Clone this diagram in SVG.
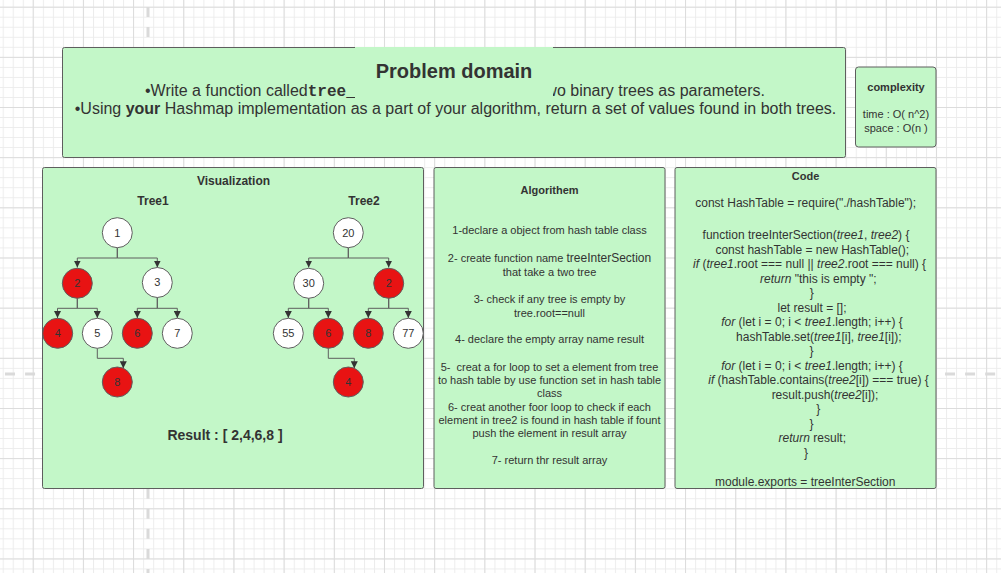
<svg xmlns="http://www.w3.org/2000/svg" width="1001" height="573" viewBox="0 0 1001 573">
<defs>
<pattern id="minor" patternUnits="userSpaceOnUse" x="2.7" y="6.7" width="10.036" height="10.032">
<path d="M0.5,0 V10.032 M0,0.5 H10.036" fill="none" stroke="#ececec" stroke-width="1"/>
</pattern>
<pattern id="major" patternUnits="userSpaceOnUse" x="32.7" y="6.7" width="50.18" height="50.16">
<path d="M0.5,0 V50.16 M0,0.5 H50.18" fill="none" stroke="#dcdcdc" stroke-width="1"/>
</pattern>
<marker id="arr" viewBox="0 0 10 10" refX="10" refY="5" markerWidth="7" markerHeight="7" markerUnits="userSpaceOnUse" orient="auto">
<path d="M0,0 L10,5 L0,10 z" fill="#333333"/>
</marker>
<style>
.box{fill:#c3f7c8;stroke:#5e5e5e;stroke-width:1}
.t{font-family:"Liberation Sans",Arial,sans-serif;fill:#333333}
.b{font-weight:bold}
.i{font-style:italic}
.c{text-anchor:middle}
.alg{font-size:11px}
.code{font-size:12px}
.nw{fill:#ffffff;stroke:#5e5e5e;stroke-width:1}
.nr{fill:#e81313;stroke:#5e5e5e;stroke-width:1}
.nt{font-family:"Liberation Sans",Arial,sans-serif;font-size:11px;fill:#333333;text-anchor:middle}
.con{fill:none;stroke:#5e5e5e;stroke-width:1;marker-end:url(#arr)}
.guide{stroke:#dadada;stroke-width:3;stroke-dasharray:10 10.07;fill:none}
</style>
</defs>
<rect x="0" y="0" width="1001" height="573" fill="#ffffff"/>
<rect x="0" y="0" width="1001" height="573" fill="url(#minor)"/>
<rect x="0" y="0" width="1001" height="573" fill="url(#major)"/>
<g id="guides">
<path class="guide" d="M148,7 V573"/>
<path class="guide" d="M5,374 H40"/>
<path class="guide" d="M945,374 H1001"/>
</g>

<g id="problem-domain">
<rect class="box" x="62.5" y="47.5" width="783" height="110" rx="2"/>
<text class="t" x="145" y="95.5" font-size="16">•Write a function called<tspan font-family="'Liberation Mono',monospace" font-weight="bold">tree_</tspan></text>
<text class="t" x="765" y="95.5" font-size="16" text-anchor="end">two binary trees as parameters.</text>
<rect x="355" y="47" width="198" height="54" fill="#c3f7c8"/>
<text class="t b c" x="454" y="78" font-size="20">Problem domain</text>
<text class="t c" x="455.5" y="114" font-size="16">•Using <tspan class="b">your</tspan> Hashmap implementation as a part of your algorithm, return a set of values found in both trees.</text>
</g>

<g id="complexity">
<rect class="box" x="855.5" y="67" width="80.5" height="80" rx="3"/>
<text class="t b c" x="896" y="91" font-size="11">complexity</text>
<text class="t c" x="896" y="118" font-size="11">time : O( n^2)</text>
<text class="t c" x="896" y="131.5" font-size="11">space : O(n )</text>
</g>

<g id="visualization">
<rect class="box" x="42.5" y="167.5" width="381" height="321" rx="2"/>
<text class="t b c" x="233.5" y="185" font-size="12">Visualization</text>
<text class="t b c" x="153" y="204.5" font-size="12">Tree1</text>
<text class="t b c" x="364" y="204.5" font-size="12">Tree2</text>
<text class="t b c" x="225" y="440" font-size="14">Result : [ 2,4,6,8 ]</text>
</g>

<g id="connectors">
<path class="con" d="M117.3,247.7 V258 H77.3 V267.5"/>
<path class="con" d="M117.3,247.7 V258 H157.3 V267.5"/>
<path class="con" d="M77.3,298.3 V308.3 H57.5 V318"/>
<path class="con" d="M77.3,298.3 V308.3 H97.3 V318"/>
<path class="con" d="M157.3,297.5 V308.3 H137.3 V318"/>
<path class="con" d="M157.3,297.5 V308.3 H177.3 V318"/>
<path class="con" d="M97.3,348.3 V358.3 H123.3 V368.3"/>
<path class="con" d="M348.3,247.7 V258 H308.7 V267.5"/>
<path class="con" d="M348.3,247.7 V258 H388.7 V267.5"/>
<path class="con" d="M308.7,298.3 V308.3 H288.3 V318"/>
<path class="con" d="M308.7,298.3 V308.3 H328.3 V318"/>
<path class="con" d="M388.7,298.3 V308.3 H368.3 V318"/>
<path class="con" d="M388.7,298.3 V308.3 H408.3 V318"/>
<path class="con" d="M328.3,348.3 V358.3 H354.3 V368.3"/>
</g>

<g id="t1-n1"><circle class="nw" cx="117.3" cy="232.7" r="15"/><text class="nt" x="117.3" y="236.6">1</text></g>
<g id="t1-n2"><circle class="nr" cx="77.3" cy="283.3" r="15"/><text class="nt" x="77.3" y="287.2">2</text></g>
<g id="t1-n3"><circle class="nw" cx="157.3" cy="282.5" r="15"/><text class="nt" x="157.3" y="286.4">3</text></g>
<g id="t1-n4"><circle class="nr" cx="57.7" cy="333.3" r="15"/><text class="nt" x="57.7" y="337.2">4</text></g>
<g id="t1-n5"><circle class="nw" cx="97.3" cy="333.3" r="15"/><text class="nt" x="97.3" y="337.2">5</text></g>
<g id="t1-n6"><circle class="nr" cx="137.3" cy="333.3" r="15"/><text class="nt" x="137.3" y="337.2">6</text></g>
<g id="t1-n7"><circle class="nw" cx="177.3" cy="333.3" r="15"/><text class="nt" x="177.3" y="337.2">7</text></g>
<g id="t1-n8"><circle class="nr" cx="117.3" cy="382" r="15"/><text class="nt" x="117.3" y="385.9">8</text></g>

<g id="t2-n20"><circle class="nw" cx="348.3" cy="232.7" r="15"/><text class="nt" x="348.3" y="236.6">20</text></g>
<g id="t2-n30"><circle class="nw" cx="308.7" cy="283.3" r="15"/><text class="nt" x="308.7" y="287.2">30</text></g>
<g id="t2-n2"><circle class="nr" cx="388.7" cy="283.3" r="15"/><text class="nt" x="388.7" y="287.2">2</text></g>
<g id="t2-n55"><circle class="nw" cx="288.3" cy="333.3" r="15"/><text class="nt" x="288.3" y="337.2">55</text></g>
<g id="t2-n6"><circle class="nr" cx="328.3" cy="333.3" r="15"/><text class="nt" x="328.3" y="337.2">6</text></g>
<g id="t2-n8"><circle class="nr" cx="368.3" cy="333.3" r="15"/><text class="nt" x="368.3" y="337.2">8</text></g>
<g id="t2-n77"><circle class="nw" cx="408.3" cy="333.3" r="15"/><text class="nt" x="408.3" y="337.2">77</text></g>
<g id="t2-n4"><circle class="nr" cx="348.3" cy="382" r="15"/><text class="nt" x="348.3" y="385.9">4</text></g>

<g id="algorithm">
<rect class="box" x="434" y="167.5" width="231" height="321" rx="2"/>
<text class="t b c alg" x="549.5" y="194">Algorithem</text>
<text class="t c alg" x="549.5" y="234.3">1-declare a object from hash table class</text>
<text class="t c alg" x="549.5" y="262">2- create function name <tspan font-size="12">treeInterSection</tspan></text>
<text class="t c alg" x="549.5" y="276.3">that take a two tree</text>
<text class="t c alg" x="549.5" y="303.3">3- check if any tree is empty by</text>
<text class="t c alg" x="549.5" y="316.7">tree.root==null</text>
<text class="t c alg" x="549.5" y="343.3">4- declare the empty array name result</text>
<text class="t c alg" x="549.5" y="370.7" xml:space="preserve">5-  creat a for loop to set a element from tree</text>
<text class="t c alg" x="549.5" y="384">to hash table by use function set in hash table</text>
<text class="t c alg" x="549.5" y="397.3">class</text>
<text class="t c alg" x="549.5" y="410.7">6- creat another foor loop to check if each</text>
<text class="t c alg" x="549.5" y="424">element in tree2 is found in hash table if fount</text>
<text class="t c alg" x="549.5" y="437.3">push the element in result array</text>
<text class="t c alg" x="549.5" y="464">7- return thr result array</text>
</g>

<g id="code">
<rect class="box" x="675" y="167.5" width="261" height="321" rx="2"/>
<text class="t b c" x="805.5" y="180" font-size="11">Code</text>
<text class="t c code" x="805.7" y="207.3">const HashTable = require("./hashTable");</text>
<text class="t c code" x="806" y="239.3">function treeInterSection(<tspan class="i">tree1</tspan>, <tspan class="i">tree2</tspan>) {</text>
<text class="t c code" x="812.3" y="253.8">const hashTable = new HashTable();</text>
<text class="t c code" x="809.6" y="268.3"><tspan class="i">if</tspan> (<tspan class="i">tree1</tspan>.root === null || <tspan class="i">tree2</tspan>.root === null) {</text>
<text class="t c code" x="818.3" y="282.8"><tspan class="i">return</tspan> "this is empty ";</text>
<text class="t c code" x="811.7" y="297.3">}</text>
<text class="t c code" x="812" y="311.7">let result = [];</text>
<text class="t c code" x="812" y="326.2"><tspan class="i">for</tspan> (let i = 0; i &lt; <tspan class="i">tree1</tspan>.length; i++) {</text>
<text class="t c code" x="818.8" y="340.7">hashTable.set(<tspan class="i">tree1</tspan>[i], <tspan class="i">tree1</tspan>[i]);</text>
<text class="t c code" x="811.5" y="355.2">}</text>
<text class="t c code" x="812" y="369.7"><tspan class="i">for</tspan> (let i = 0; i &lt; <tspan class="i">tree1</tspan>.length; i++) {</text>
<text class="t c code" x="818.5" y="384.2"><tspan class="i">if</tspan> (hashTable.contains(<tspan class="i">tree2</tspan>[i]) === true) {</text>
<text class="t c code" x="825" y="398.7">result.push(<tspan class="i">tree2</tspan>[i]);</text>
<text class="t c code" x="818.3" y="413.2">}</text>
<text class="t c code" x="811.5" y="427.7">}</text>
<text class="t c code" x="812.3" y="442.2"><tspan class="i">return</tspan> result;</text>
<text class="t c code" x="806" y="456.7">}</text>
<text class="t c code" x="805.2" y="485.5">module.exports = treeInterSection</text>
</g>
</svg>
